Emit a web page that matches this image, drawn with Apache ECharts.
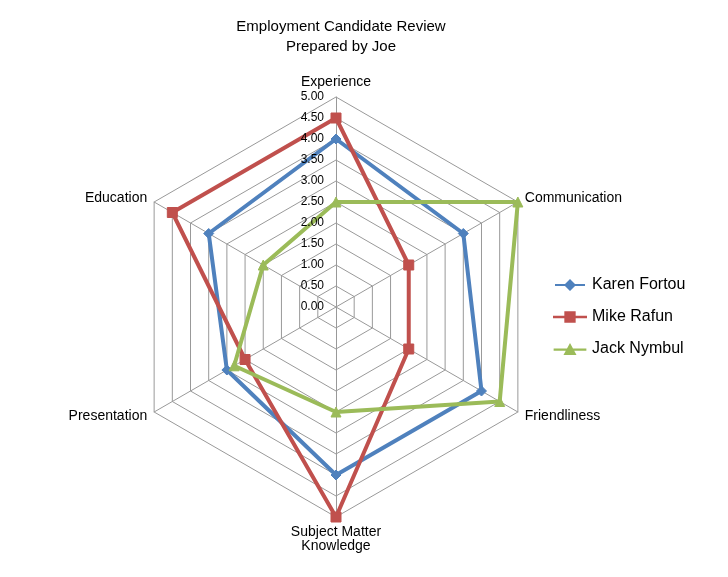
<!DOCTYPE html>
<html><head><meta charset="utf-8">
<script src="https://cdn.jsdelivr.net/npm/echarts@6/dist/echarts.min.js"></script>
<style>html,body{margin:0;background:#fff}#c{width:728px;height:577px}</style>
</head><body><div id="c"></div>
<script>
// indicators listed counter-clockwise from the top (ECharts radar order)
var categories = ["Experience", "Education", "Presentation", "Subject Matter\nKnowledge", "Friendliness", "Communication"];
var karen = [4.0, 3.5, 3.0, 4.0, 4.0, 3.5];
var mike = [4.5, 4.5, 2.5, 5.0, 2.0, 2.0];
var jack = [2.5, 2.0, 2.8, 2.5, 4.5, 5.0];
var seriesNames = ["Karen Fortou", "Mike Rafun", "Jack Nymbul"];
var colors = ["#4F81BD", "#C0504D", "#9BBB59"];
var symbols = ["diamond", "rect", "triangle"];
var legendIcons = [
	"path://M0,5h30v2H0z M15,0l6,6l-6,6l-6,-6z",
	"path://M0,5h30v2H0z M10,1h10v10H10z",
	"path://M0,5h30v2H0z M15,0l6,11H9z"
];

var chart = echarts.init(document.getElementById("c"));
var center = [336, 307], radius = 210;
var font = "Liberation Sans";
var sdata = [karen, mike, jack];
var series = [];
for (var i = 0; i < sdata.length; i++) {
	series.push({
		name: seriesNames[i],
		type: "radar",
		symbol: symbols[i],
		symbolSize: 10,
		lineStyle: { width: 4, color: colors[i] },
		itemStyle: { color: colors[i], borderColor: colors[i] },
		data: [{ value: sdata[i], name: seriesNames[i] }]
	});
}
chart.setOption({
	animation: false,
	title: {
		text: "Employment Candidate Review\nPrepared by Joe",
		left: 336, top: 12, textAlign: "center",
		textStyle: { fontFamily: font, fontWeight: "normal", fontSize: 15, lineHeight: 20, color: "#000" }
	},
	legend: {
		orient: "vertical", left: 548, top: 272, itemGap: 16, itemWidth: 34, itemHeight: 12,
		data: seriesNames.map(function (n, k) { return { name: n, icon: legendIcons[k] }; }),
		textStyle: { fontFamily: font, fontSize: 16, color: "#000" }
	},
	radar: {
		center: center, radius: radius, startAngle: 90, splitNumber: 10, shape: "polygon",
		indicator: categories.map(function (c) { return { name: c, min: 0, max: 5 }; }),
		axisName: { color: "#000", fontFamily: font, fontSize: 14 },
		nameGap: 8,
		splitLine: { lineStyle: { color: "#999", width: 1 } },
		splitArea: { show: false },
		axisLine: { lineStyle: { color: "#999" } }
	},
	polar: { center: center, radius: radius },
	angleAxis: { startAngle: 90, show: false, min: 0, max: 360 },
	radiusAxis: {
		min: 0, max: 5, interval: 0.5,
		axisLine: { show: false }, axisTick: { show: false }, splitLine: { show: false },
		axisLabel: { fontFamily: font, fontSize: 12, color: "#000", margin: 12, formatter: function (v) { return v.toFixed(2); } },
		z: 10
	},
	series: series
});
</script></body></html>
